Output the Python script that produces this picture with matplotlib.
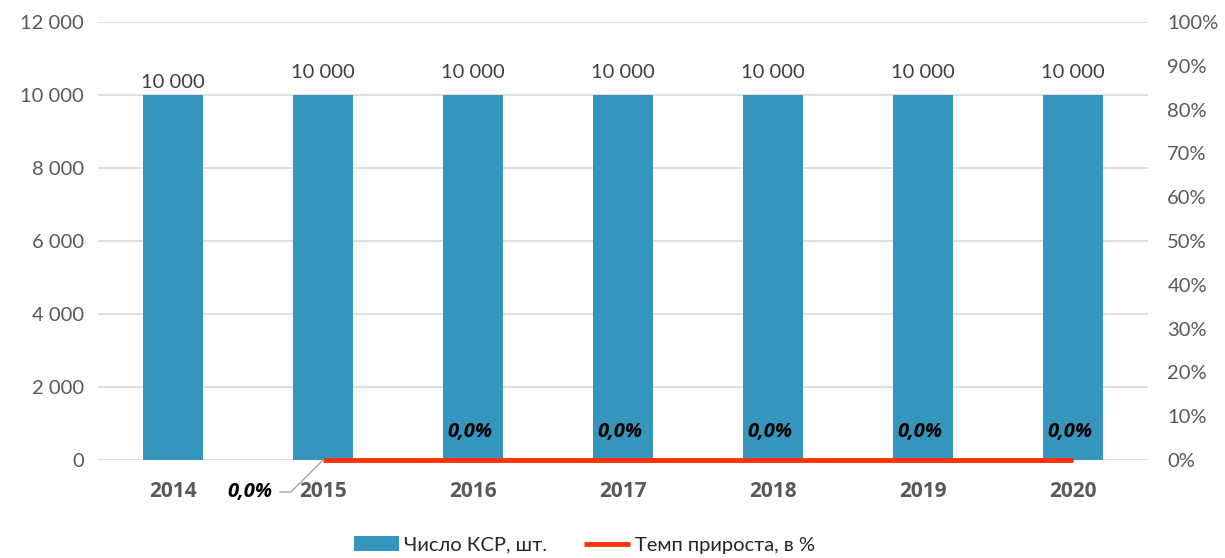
import matplotlib.pyplot as plt
from matplotlib.ticker import FuncFormatter

plt.rcParams['font.family'] = ['Lato', 'DejaVu Sans']

years = ['2014', '2015', '2016', '2017', '2018', '2019', '2020']
ksr_count = [10000, 10000, 10000, 10000, 10000, 10000, 10000]
growth_years = ['2015', '2016', '2017', '2018', '2019', '2020']
growth_pct = [0.0, 0.0, 0.0, 0.0, 0.0, 0.0]

bar_color = '#3595BC'
line_color = '#FF3300'
tick_color = '#595959'

fig = plt.figure(figsize=(12.25, 5.58), dpi=100)
ax = fig.add_axes([0.08, 0.1756, 0.857, 0.785])
x = list(range(len(years)))

ax.bar(x, ksr_count, width=0.4, color=bar_color, zorder=2, label='Число КСР, шт.')
for xi, v in zip(x, ksr_count):
    # first label sits lower, as in the source chart
    dy = 3 if xi == 0 else 10
    ax.annotate(f'{v:,}'.replace(',', ' '), (xi, v), xytext=(0, dy),
                textcoords='offset points', ha='center', va='bottom',
                fontsize=14.5, color='#404040')

ax.set_ylim(0, 12000)
ax.set_yticks(range(0, 12001, 2000))
ax.yaxis.set_major_formatter(FuncFormatter(lambda v, p: f'{int(v):,}'.replace(',', ' ')))
ax.set_xlim(-0.5, len(years) - 0.5)
ax.set_xticks(x)
ax.set_xticklabels(years, fontweight='bold', family=['Open Sans', 'DejaVu Sans'], fontsize=15)
ax.grid(axis='y', color='#D9D9D9', linewidth=1.2, zorder=0)
for s in ax.spines.values():
    s.set_visible(False)
ax.tick_params(axis='y', length=0, labelsize=14.5, colors=tick_color, pad=10)
ax.tick_params(axis='x', length=0, colors=tick_color, pad=15)

ax2 = ax.twinx()
gx = [years.index(y) for y in growth_years]
ax2.plot(gx, growth_pct, color=line_color, linewidth=3.5, zorder=3, clip_on=False,
         label='Темп прироста, в %', solid_capstyle='butt')
ax2.set_ylim(0, 100)
ax2.set_yticks(range(0, 101, 10))
ax2.yaxis.set_major_formatter(FuncFormatter(lambda v, p: f'{int(v)}%'))
for s in ax2.spines.values():
    s.set_visible(False)
ax2.tick_params(axis='y', length=0, labelsize=14.5, colors=tick_color, pad=14)

lab_font = dict(family=['Open Sans', 'DejaVu Sans'], fontsize=14.5, fontweight='bold',
                fontstyle='italic', color='black')
for xi, v in zip(gx, growth_pct):
    label = f'{v:.1f}%'.replace('.', ',')
    if xi == gx[0]:
        ax2.annotate(label, (xi, v), xytext=(-36, -23), textcoords='offset points',
                     ha='right', va='center',
                     arrowprops=dict(arrowstyle='-', color='#A6A6A6', lw=1,
                                     connectionstyle='angle,angleA=0,angleB=45,rad=0',
                                     shrinkA=3, shrinkB=0),
                     **lab_font)
    else:
        ax2.annotate(label, (xi, v), xytext=(-2, 13), textcoords='offset points',
                     ha='center', va='bottom', **lab_font)

h1, l1 = ax.get_legend_handles_labels()
h2, l2 = ax2.get_legend_handles_labels()
fig.legend(h1 + h2, l1 + l2, loc='lower center', bbox_to_anchor=(0.477, -0.025),
           ncol=2, frameon=False, fontsize=14.5, handlelength=2.25, handleheight=0.75,
           handletextpad=0.25, columnspacing=1.85, labelcolor='#262626')

fig.savefig('out.png', dpi=100)
